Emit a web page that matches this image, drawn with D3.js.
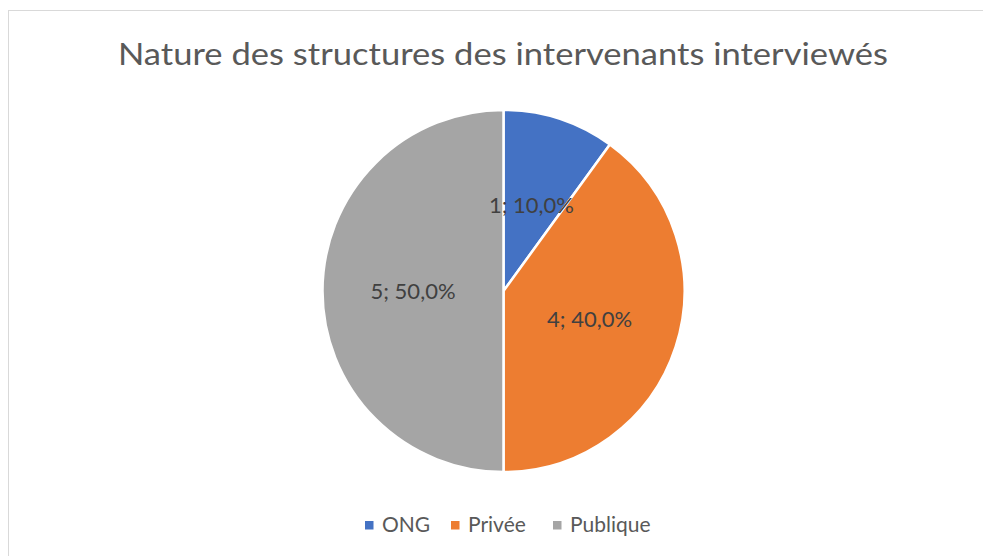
<!DOCTYPE html>
<html><head><meta charset="utf-8">
<script src="https://cdn.jsdelivr.net/npm/d3@7"></script>
<style>body{margin:0;background:#fff;}svg{display:block;}</style>
</head><body>
<svg id="c" width="983" height="556"></svg>
<script>
const categories = ["ONG", "Privée", "Publique"];
const values = [1, 4, 5];
const colors = ["#4472C4", "#ED7D31", "#A5A5A5"];
const title = "Nature des structures des intervenants interviewés";

const svg = d3.select("#c");
const font = "Lato, 'Open Sans', sans-serif";
svg.append("rect").attr("x",8.5).attr("y",10.5).attr("width",990).attr("height",560)
  .attr("fill","#fff").attr("stroke","#d9d9d9").attr("stroke-width",1);

svg.append("text").attr("x",503).attr("y",65).attr("text-anchor","middle")
  .attr("font-family",font).attr("font-size",30).attr("fill","#595959")
  .attr("textLength",770).attr("lengthAdjust","spacingAndGlyphs").text(title);

const cx=503.5, cy=291, R=181;
const total = d3.sum(values);
const pie = d3.pie().sort(null).value(d=>d)(values);
const arc = d3.arc().innerRadius(0).outerRadius(R);
const labelArc = d3.arc().innerRadius(R*0.5).outerRadius(R*0.5);
const g = svg.append("g").attr("transform",`translate(${cx},${cy})`);
g.selectAll("path").data(pie).join("path").attr("d",arc)
  .attr("fill",(d,i)=>colors[i]).attr("stroke","#fff").attr("stroke-width",2.5);
const fmt = v => (v/total*100).toFixed(1).replace(".",",")+"%";
g.selectAll("text").data(pie).join("text")
  .attr("transform",d=>`translate(${labelArc.centroid(d)})`)
  .attr("text-anchor","middle").attr("dy","0.35em")
  .attr("font-family",font).attr("font-size",22).attr("fill","#404040")
  .text(d=>`${d.data}; ${fmt(d.data)}`);

const legendX = [365, 451, 553];
const lg = svg.append("g");
categories.forEach((c,i)=>{
  lg.append("rect").attr("x",legendX[i]).attr("y",521).attr("width",8.5).attr("height",8.5).attr("fill",colors[i]);
  lg.append("text").attr("x",legendX[i]+17).attr("y",532)
    .attr("font-family",font).attr("font-size",21).attr("fill","#595959").text(c);
});
</script>
</body></html>
